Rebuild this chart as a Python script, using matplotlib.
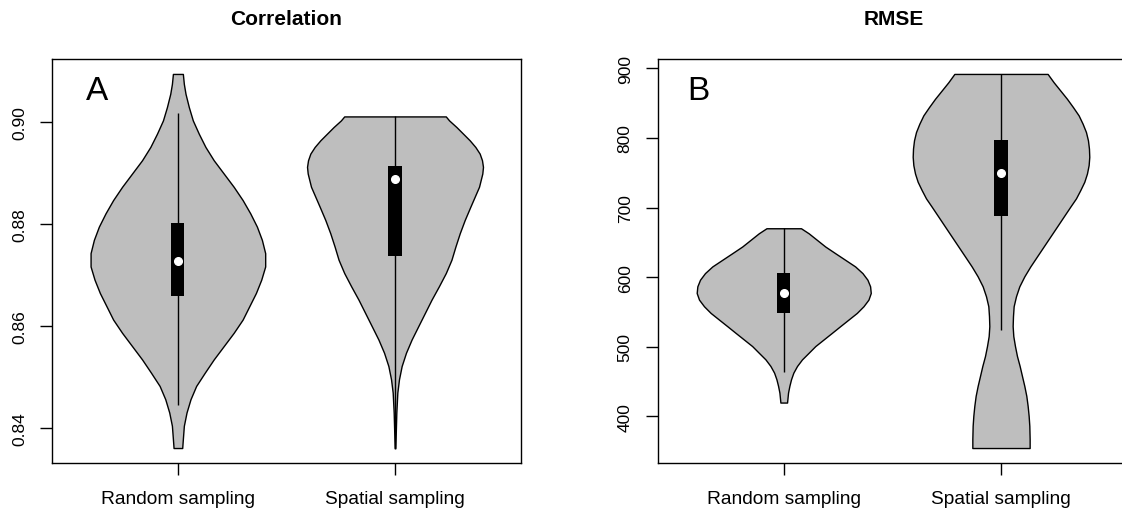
"""Violin plots of model correlation and RMSE for two sampling schemes."""

import matplotlib

matplotlib.use("Agg")
import matplotlib.pyplot as plt

plt.rcParams["font.family"] = ["Liberation Sans", "DejaVu Sans"]

groups = ["Random sampling", "Spatial sampling"]

# Violin outlines: levels along the value axis and the half width at each level
cor_random_levels = [0.83616, 0.83792, 0.84052, 0.84312, 0.84572, 0.84832, 0.85092,
                     0.85352, 0.85612, 0.85872, 0.86132, 0.86392, 0.86652, 0.86912,
                     0.87172, 0.87433, 0.87693, 0.87953, 0.88213, 0.88473, 0.88733,
                     0.88993, 0.89253, 0.89513, 0.89773, 0.90033, 0.90293, 0.90553,
                     0.90748, 0.90943]
cor_random_width = [0.0199, 0.0229, 0.0275, 0.0398, 0.0581, 0.0841, 0.1239,
                    0.1651, 0.2110, 0.2569, 0.2982, 0.3287, 0.3593, 0.3838,
                    0.4021, 0.4021, 0.3869, 0.3639, 0.3333, 0.2982, 0.2569,
                    0.2110, 0.1651, 0.1269, 0.0963, 0.0688, 0.0505, 0.0352,
                    0.0275, 0.0229]

cor_spatial_levels = [0.83610, 0.84312, 0.84702, 0.84962, 0.85222, 0.85482, 0.85742,
                      0.86002, 0.86262, 0.86522, 0.86782, 0.87043, 0.87303, 0.87563,
                      0.87823, 0.88083, 0.88343, 0.88538, 0.88733, 0.88863, 0.88993,
                      0.89123, 0.89253, 0.89383, 0.89513, 0.89643, 0.89773, 0.89903,
                      0.90033, 0.90111]
cor_spatial_width = [0.0015, 0.0061, 0.0107, 0.0183, 0.0306, 0.0505, 0.0765,
                     0.1070, 0.1376, 0.1682, 0.2018, 0.2339, 0.2599, 0.2783,
                     0.2982, 0.3211, 0.3471, 0.3670, 0.3869, 0.3945, 0.4021,
                     0.4052, 0.4006, 0.3899, 0.3700, 0.3440, 0.3135, 0.2829,
                     0.2492, 0.2339]

rmse_random_levels = [420.0, 434.3, 443.9, 453.4, 462.9, 472.5, 482.0, 491.5, 501.1,
                      510.6, 520.1, 529.7, 539.2, 548.7, 558.3, 567.8, 577.3, 586.9,
                      596.4, 605.9, 615.5, 625.0, 634.5, 644.1, 653.6, 663.1, 670.3]
rmse_random_width = [0.0153, 0.0199, 0.0260, 0.0336, 0.0443, 0.0612, 0.0841, 0.1147,
                     0.1453, 0.1835, 0.2217, 0.2599, 0.2982, 0.3364, 0.3670, 0.3899,
                     0.4006, 0.3976, 0.3853, 0.3624, 0.3287, 0.2829, 0.2370, 0.1911,
                     0.1529, 0.1147, 0.0795]

rmse_spatial_levels = [354.7, 367.6, 386.7, 401.0, 415.3, 429.6, 443.9, 458.2, 472.5,
                       486.8, 501.1, 515.4, 529.7, 544.0, 558.3, 572.6, 586.9, 601.2,
                       615.5, 629.8, 644.1, 658.4, 672.7, 687.0, 701.3, 713.2, 725.1,
                       737.0, 748.9, 760.9, 772.8, 784.7, 796.6, 808.5, 820.4, 832.4,
                       844.3, 856.2, 868.1, 880.0, 891.9]
rmse_spatial_width = [0.1319, 0.1319, 0.1304, 0.1273, 0.1227, 0.1166, 0.1074, 0.0966,
                      0.0859, 0.0736, 0.0644, 0.0567, 0.0537, 0.0552, 0.0583, 0.0690,
                      0.0844, 0.1074, 0.1350, 0.1656, 0.1963, 0.2270, 0.2577, 0.2883,
                      0.3190, 0.3451, 0.3650, 0.3834, 0.3957, 0.4034, 0.4064, 0.4049,
                      0.4003, 0.3911, 0.3758, 0.3574, 0.3313, 0.3037, 0.2730, 0.2423,
                      0.2147]

# Box summaries: lower whisker, q1, median, q3, upper whisker
cor_random_box = [0.8446, 0.8659, 0.8728, 0.8802, 0.9018]
cor_spatial_box = [0.8362, 0.8738, 0.8888, 0.8914, 0.9011]
rmse_random_box = [463.5, 548.8, 577.4, 606.0, 670.3]
rmse_spatial_box = [524.9, 687.9, 749.0, 797.6, 891.9]

cor_ticks = [0.84, 0.86, 0.88, 0.90]
rmse_ticks = [400, 500, 600, 700, 800, 900]


def draw_violin(ax, pos, levels, half_width, box):
    left = [pos - w for w in half_width]
    right = [pos + w for w in half_width]
    ax.fill_betweenx(levels, left, right, facecolor="#BEBEBE",
                     edgecolor="black", linewidth=1.0, zorder=2)
    lo, q1, med, q3, hi = box
    ax.vlines(pos, lo, hi, color="black", linewidth=1.0, zorder=3)
    ax.bar(pos, q3 - q1, bottom=q1, width=0.06, color="black", zorder=4)
    ax.plot(pos, med, "o", color="white", markersize=5.5, zorder=5)


def style_axes(ax, title, ticks, fmt, lo, hi, letter, letter_xy, xmax=2.58):
    # R-style limits: data range padded by 4% on each side
    span = hi - lo
    ax.set_ylim(lo - 0.04 * span, hi + 0.04 * span)
    ax.set_xlim(0.42, xmax)
    ax.set_xticks([1, 2])
    ax.set_xticklabels(groups, fontsize=13.8)
    ax.set_yticks(ticks)
    ax.set_yticklabels([fmt.format(t) for t in ticks], rotation=90,
                       va="center", fontsize=12.5)
    ax.tick_params(axis="x", direction="out", length=8.5, width=1.0, pad=11)
    ax.tick_params(axis="y", direction="out", length=8.5, width=1.0, pad=9.5)
    for spine in ax.spines.values():
        spine.set_color("black")
        spine.set_linewidth(1.0)
    ax.set_title(title, fontweight="bold", fontsize=15, pad=25)
    ax.text(letter_xy[0], letter_xy[1], letter, fontsize=24,
            ha="center", va="center")


fig = plt.figure(figsize=(11.22, 5.10), dpi=100)
ax_cor = fig.add_axes([0.0463, 0.0902, 0.4180, 0.7922])
# right panel runs slightly past the figure edge, so its right border is cut off
ax_rmse = fig.add_axes([0.5862, 0.0902, 0.4200, 0.7922])

draw_violin(ax_cor, 1, cor_random_levels, cor_random_width, cor_random_box)
draw_violin(ax_cor, 2, cor_spatial_levels, cor_spatial_width, cor_spatial_box)
style_axes(ax_cor, "Correlation", cor_ticks, "{:.2f}",
           min(cor_random_levels), max(cor_random_levels), "A", (0.627, 0.9061))

draw_violin(ax_rmse, 1, rmse_random_levels, rmse_random_width, rmse_random_box)
draw_violin(ax_rmse, 2, rmse_spatial_levels, rmse_spatial_width, rmse_spatial_box)
style_axes(ax_rmse, "RMSE", rmse_ticks, "{:d}",
           min(rmse_spatial_levels), max(rmse_spatial_levels), "B", (0.605, 868.1),
           xmax=2.589)

fig.savefig("out.png", dpi=100)
